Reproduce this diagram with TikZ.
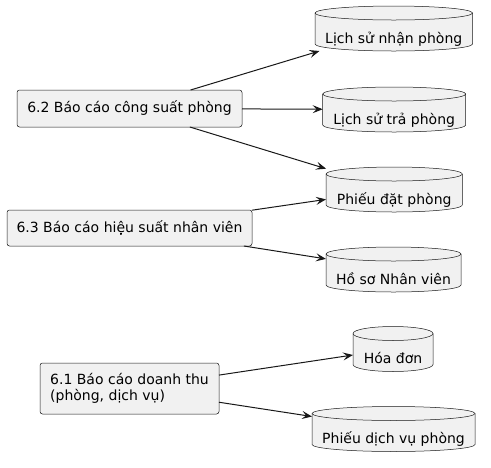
\documentclass[tikz,border=0pt]{standalone}
\usepackage{fontspec}
\setmainfont{DejaVu Sans}
\usepackage{tikz}
\usetikzlibrary{arrows.meta,backgrounds,calc}
\definecolor{umlline}{HTML}{181818}
\definecolor{umlfill}{HTML}{F1F1F1}
\tikzset{
every picture/.style={x=1pt,y=-1pt},
report/.style={draw=umlline, fill=umlfill, line width=0.5pt, rounded corners=2.5pt, inner sep=0pt, outer sep=0pt, align=left, font=\fontsize{14}{16.3}\selectfont},
store/.style={minimum width=#1, minimum height=45pt, inner sep=0pt, outer sep=0pt, text height=33pt, text depth=4pt, font=\fontsize{14}{16.3}\selectfont},
dbline/.style={draw=umlline, fill=umlfill, line width=0.5pt},
flow/.style={draw=umlline, line width=1pt, -{Stealth[length=10pt,width=8pt,inset=4pt]}}
}

\begin{document}
\begin{tikzpicture}
  \useasboundingbox (0,0) rectangle (491,467);
  \node[report, minimum width=225pt, minimum height=37pt] (r62) at (129.5,108.5) {6.2 Báo cáo công suất phòng};
  \node[report, minimum width=245pt, minimum height=36pt] (r63) at (129.5,228) {6.3 Báo cáo hiệu suất nhân viên};
  \node[report, minimum width=179pt, minimum height=51pt] (r61) at (129.5,388.5) {6.1 Báo cáo doanh thu\\(phòng, dịch vụ)};
  \node[store=157.5pt] (lsnhan) at (393.75,28.5) {Lịch sử nhận phòng};
  \node[store=143pt] (lstra) at (394.2,109.5) {Lịch sử trả phòng};
  \node[store=136.3pt] (pdat) at (394.2,189.5) {Phiếu đặt phòng};
  \node[store=135pt] (hsnv) at (393.5,269.5) {Hồ sơ Nhân viên};
  \node[store=80pt] (hoadon) at (393,349) {Hóa đơn};
  \node[store=163pt] (pdv) at (393.5,429) {Phiếu dịch vụ phòng};
  \begin{scope}[on background layer]
  \foreach \n in {lsnhan, lstra, pdat, hsnv, hoadon, pdv} {
    \draw[dbline] ([yshift=-7pt]\n.north west) .. controls ([yshift=-3.1pt]\n.north west) and ($(\n.north)!0.552!(\n.north west)$) .. (\n.north)
      .. controls ($(\n.north)!0.552!(\n.north east)$) and ([yshift=-3.1pt]\n.north east) .. ([yshift=-7pt]\n.north east)
      -- ([yshift=7pt]\n.south east) .. controls ([yshift=3.1pt]\n.south east) and ($(\n.south)!0.552!(\n.south east)$) .. (\n.south)
      .. controls ($(\n.south)!0.552!(\n.south west)$) and ([yshift=3.1pt]\n.south west) .. ([yshift=7pt]\n.south west) -- cycle;
    \draw[dbline, fill=none] ([yshift=-7pt]\n.north west) .. controls ([yshift=-10.9pt]\n.north west) and ([yshift=-14pt]$(\n.north)!0.552!(\n.north west)$) .. ([yshift=-14pt]\n.north)
      .. controls ([yshift=-14pt]$(\n.north)!0.552!(\n.north east)$) and ([yshift=-10.9pt]\n.north east) .. ([yshift=-7pt]\n.north east);
  }
  \end{scope}
  \foreach \a/\b in {r62/lsnhan, r62/lstra, r62/pdat, r63/pdat, r63/hsnv, r61/hoadon, r61/pdv}
    \draw[flow] (\a) -- (\b);
\end{tikzpicture}
\end{document}
